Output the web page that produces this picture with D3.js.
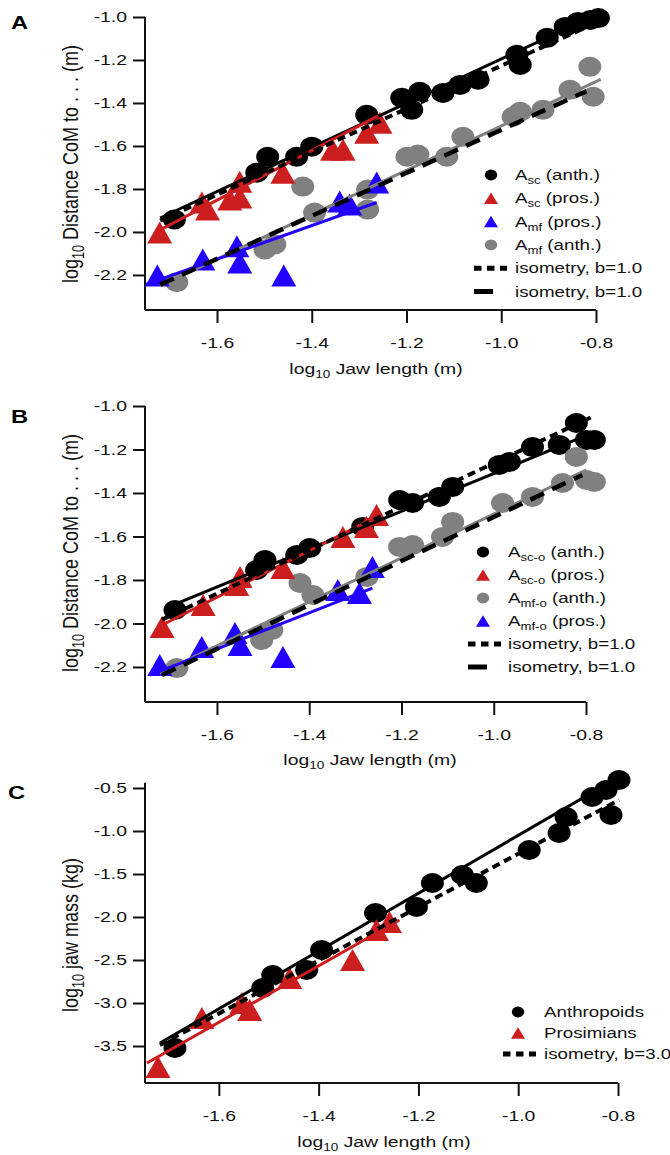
<!DOCTYPE html>
<html><head><meta charset="utf-8">
<script src="https://cdn.jsdelivr.net/npm/d3@7"></script>
<style>body{margin:0;background:#fff}</style>
</head><body><svg id="c" width="670" height="1155"></svg>
<script>
// ---------- DATA ----------
const xTicks = [-1.6, -1.4, -1.2, -1.0, -0.8];
const yTicksAB = [-1.0, -1.2, -1.4, -1.6, -1.8, -2.0, -2.2];
const yTicksC = [-0.5, -1.0, -1.5, -2.0, -2.5, -3.0, -3.5];

// Panel A
const A_sc_anth = [[-1.690,-1.942],[-1.516,-1.724],[-1.493,-1.650],[-1.432,-1.650],[-1.400,-1.603],[-1.284,-1.455],[-1.210,-1.376],[-1.189,-1.432],[-1.172,-1.348],[-1.123,-1.353],[-1.087,-1.316],[-1.049,-1.292],[-0.967,-1.176],[-0.960,-1.223],[-0.903,-1.097],[-0.865,-1.046],[-0.838,-1.023],[-0.812,-1.014],[-0.795,-1.005]];
const A_sc_pros = [[-1.721,-2.002],[-1.632,-1.863],[-1.620,-1.896],[-1.573,-1.849],[-1.552,-1.840],[-1.552,-1.766],[-1.461,-1.724],[-1.356,-1.617],[-1.334,-1.617],[-1.284,-1.538],[-1.256,-1.492]];
const A_mf_pros = [[-1.726,-2.202],[-1.630,-2.128],[-1.558,-2.067],[-1.552,-2.142],[-1.459,-2.202],[-1.341,-1.858],[-1.320,-1.872],[-1.263,-1.770]];
const A_mf_anth = [[-1.685,-2.234],[-1.499,-2.081],[-1.478,-2.058],[-1.419,-1.789],[-1.394,-1.910],[-1.282,-1.803],[-1.282,-1.896],[-1.199,-1.650],[-1.176,-1.640],[-1.115,-1.650],[-1.081,-1.557],[-0.975,-1.464],[-0.960,-1.441],[-0.912,-1.432],[-0.855,-1.339],[-0.813,-1.232],[-0.806,-1.371]];
const A_fit_sc_anth = [[-1.72,-1.935],[-0.80,-0.99]];
const A_fit_sc_pros = [[-1.72,-1.99],[-1.26,-1.46]];
const A_fit_mf_anth = [[-1.72,-2.25],[-0.79,-1.29]];
const A_fit_mf_pros = [[-1.75,-2.244],[-1.263,-1.863]];
const A_iso_sc = [[-1.72,-1.947],[-0.80,-1.027]];
const A_iso_mf = [[-1.72,-2.245],[-0.82,-1.345]];

// Panel B
const B_sc_anth = [[-1.691,-1.938],[-1.514,-1.754],[-1.496,-1.708],[-1.427,-1.685],[-1.399,-1.653],[-1.284,-1.556],[-1.204,-1.432],[-1.176,-1.446],[-1.118,-1.418],[-1.089,-1.372],[-0.988,-1.271],[-0.966,-1.257],[-0.916,-1.189],[-0.858,-1.179],[-0.821,-1.078],[-0.799,-1.156],[-0.782,-1.156]];
const B_sc_pros = [[-1.719,-2.016],[-1.630,-1.915],[-1.557,-1.823],[-1.550,-1.786],[-1.457,-1.745],[-1.327,-1.602],[-1.276,-1.556],[-1.254,-1.501]];
const B_mf_anth = [[-1.687,-2.205],[-1.503,-2.076],[-1.481,-2.030],[-1.420,-1.814],[-1.392,-1.869],[-1.275,-1.786],[-1.204,-1.648],[-1.176,-1.639],[-1.111,-1.602],[-1.089,-1.533],[-0.981,-1.446],[-0.916,-1.418],[-0.851,-1.354],[-0.821,-1.234],[-0.799,-1.340],[-0.782,-1.349]];
const B_mf_pros = [[-1.724,-2.191],[-1.633,-2.108],[-1.561,-2.044],[-1.550,-2.099],[-1.457,-2.154],[-1.338,-1.846],[-1.291,-1.860],[-1.263,-1.740]];
const B_fit_sc_anth = [[-1.685,-1.906],[-0.786,-1.124]];
const B_fit_sc_pros = [[-1.719,-2.007],[-1.254,-1.510]];
const B_fit_mf_anth = [[-1.724,-2.228],[-0.799,-1.294]];
const B_fit_mf_pros = [[-1.745,-2.237],[-1.263,-1.837]];
const B_iso_sc = [[-1.719,-1.982],[-0.79,-1.053]];
const B_iso_mf = [[-1.719,-2.237],[-0.808,-1.317]];

// Panel C
const C_anth = [[-1.688,-3.523],[-1.512,-2.826],[-1.492,-2.674],[-1.424,-2.616],[-1.394,-2.384],[-1.286,-1.953],[-1.204,-1.884],[-1.172,-1.605],[-1.112,-1.512],[-1.084,-1.605],[-0.978,-1.221],[-0.918,-1.023],[-0.904,-0.837],[-0.852,-0.605],[-0.824,-0.523],[-0.798,-0.407],[-0.814,-0.814]];
const C_pros = [[-1.722,-3.744],[-1.634,-3.174],[-1.554,-3.0],[-1.538,-3.081],[-1.458,-2.709],[-1.332,-2.5],[-1.284,-2.151],[-1.258,-2.058]];
const C_fit_anth = [[-1.718,-3.465],[-0.798,-0.372]];
const C_fit_pros = [[-1.744,-3.698],[-1.238,-2.035]];
const C_iso = [[-1.718,-3.488],[-0.798,-0.64]];

// ---------- STYLE ----------
const FONT = "'Liberation Sans', Arial, sans-serif";
const SX = 1.25;           // horizontal stretch of the original figure
const COL = {black:'#000', red:'#cc1e1e', blue:'#2200ff', gray:'#808080'};
const svg = d3.select('#c');

function stext(parent, x, y, parts, o = {}) {
  const size = o.size || 15;
  const t = parent.append('text')
    .attr('transform', `translate(${x},${y}) scale(${SX},1)` + (o.rotate ? ' rotate(-90)' : ''))
    .attr('font-family', FONT).attr('font-size', size)
    .attr('font-weight', o.weight || 'normal')
    .attr('text-anchor', o.anchor || 'start').attr('fill', o.fill || '#111');
  let shifted = 0;
  const sh = o.subShift || 4;
  parts.forEach(([s, sub]) => {
    const ts = t.append('tspan').text(s);
    if (sub) { ts.attr('font-size', size * 0.7).attr('dy', sh - shifted); shifted = sh; }
    else if (shifted) { ts.attr('dy', -shifted); shifted = 0; }
  });
  return t;
}

function circlePath(rx, ry) {
  return `M${-rx},0A${rx},${ry} 0 1,0 ${rx},0A${rx},${ry} 0 1,0 ${-rx},0Z`;
}
function triPath(w, h) {
  return `M0,${-h/2}L${w/2},${h/2}L${-w/2},${h/2}Z`;
}
const MARK = {
  circle: circlePath(11.5, 10), tri: triPath(25, 22),
  lcircle: circlePath(6.2, 5.4), ltri: triPath(14, 11.5)
};
const DASH = {dot: '8,5', dash: '15,9'};

function panel(cfg) {
  const g = svg.append('g');
  const x = d3.scaleLinear().domain(cfg.xDom).range(cfg.xRange);
  const y = d3.scaleLinear().domain(cfg.yDom).range(cfg.yRange);
  const yBot = y(cfg.yMin), yTop = y(cfg.yMax);

  // axes
  const ax = g.append('g').attr('transform', `translate(0,${yBot})`)
    .call(d3.axisBottom(x).tickValues(xTicks).tickSize(13).tickPadding(14).tickFormat(d3.format('.1f')));
  const ay = g.append('g').attr('transform', `translate(${cfg.xRange[0]},0)`)
    .call(d3.axisLeft(y).tickValues(cfg.yTicks).tickSize(12).tickPadding(6).tickFormat(d3.format('.1f')));
  [ax, ay].forEach(a => {
    a.select('.domain').remove();
    a.selectAll('line').attr('stroke', '#111').attr('stroke-width', 2);
    a.selectAll('text').attr('font-family', FONT).attr('font-size', 15.5).attr('fill', '#111')
      .each(function () {
        const t = d3.select(this);
        const tx = +t.attr('x') || 0;
        t.attr('x', 0).attr('transform', `translate(${tx},0) scale(${SX},1)`);
      });
    a.selectAll('text').text(function () { return d3.select(this).text().replace('−', '-'); });
  });
  g.append('line').attr('x1', cfg.xRange[0]).attr('x2', cfg.xRange[1])
    .attr('y1', yBot).attr('y2', yBot).attr('stroke', '#111').attr('stroke-width', 2);
  g.append('line').attr('x1', cfg.xRange[0]).attr('x2', cfg.xRange[0])
    .attr('y1', yBot).attr('y2', yTop).attr('stroke', '#111').attr('stroke-width', 2);

  // markers
  cfg.series.forEach(s => {
    g.append('g').selectAll('path').data(s.data).join('path')
      .attr('d', MARK[s.shape]).attr('fill', s.color)
      .attr('transform', d => `translate(${x(d[0])},${y(d[1])})`);
  });
  // lines
  const line = d3.line().x(d => x(d[0])).y(d => y(d[1]));
  cfg.lines.forEach(l => {
    g.append('path').attr('d', line(l.data)).attr('fill', 'none')
      .attr('stroke', l.color).attr('stroke-width', l.width)
      .attr('stroke-dasharray', l.dash ? DASH[l.dash] : null);
  });

  // labels
  stext(g, cfg.letter[1], cfg.letter[2], [[cfg.letter[0], false]], {size: 19, weight: 'bold', fill: '#000'});
  stext(g, cfg.ylab.x, cfg.ylab.y, cfg.ylab.parts, {size: 18, anchor: 'middle', rotate: true, subShift: 5});
  stext(g, cfg.xlab.x, cfg.xlab.y, [['log', false], ['10', true], [' Jaw length (m)', false]], {size: 15.5, anchor: 'middle'});

  // legend
  const L = cfg.legend;
  L.items.forEach((it, i) => {
    const yy = L.y0 + i * L.dy;
    if (it.shape) {
      g.append('path').attr('d', MARK['l' + it.shape]).attr('fill', it.color)
        .attr('transform', `translate(${L.sx},${yy})`);
    } else {
      g.append('line').attr('x1', L.lx).attr('x2', L.lx + (it.dash === 'dot' ? 33 : 19))
        .attr('y1', yy).attr('y2', yy).attr('stroke', '#000').attr('stroke-width', 5)
        .attr('stroke-dasharray', it.dash === 'dot' ? '7.5,5.5' : null);
    }
    stext(g, L.tx, yy + 5, it.label, {size: 15});
  });
}

const ylabDist = [['log', false], ['10', true], [' Distance CoM to . . . (m)', false]];
const iso1 = [['isometry, b=1.0', false]];

panel({
  xDom: [-1.752, -0.8], xRange: [145, 596],
  yDom: [-1.0, -2.363], yRange: [17, 310], yMax: -1.0, yMin: -2.363, yTicks: yTicksAB,
  letter: ['A', 11, 29],
  ylab: {x: 78, y: 164, parts: ylabDist},
  xlab: {x: 376, y: 374},
  series: [
    {data: A_sc_anth, shape: 'circle', color: COL.black},
    {data: A_mf_anth, shape: 'circle', color: COL.gray},
    {data: A_sc_pros, shape: 'tri', color: COL.red},
    {data: A_mf_pros, shape: 'tri', color: COL.blue}
  ],
  lines: [
    {data: A_fit_sc_anth, color: COL.black, width: 3},
    {data: A_fit_sc_pros, color: COL.red, width: 3},
    {data: A_fit_mf_anth, color: COL.gray, width: 3},
    {data: A_fit_mf_pros, color: COL.blue, width: 3},
    {data: A_iso_sc, color: COL.black, width: 4, dash: 'dot'},
    {data: A_iso_mf, color: COL.black, width: 4.5, dash: 'dash'}
  ],
  legend: {sx: 491, lx: 474, tx: 515, y0: 175, dy: 23.3, items: [
    {shape: 'circle', color: COL.black, label: [['A', false], ['sc', true], [' (anth.)', false]]},
    {shape: 'tri', color: COL.red, label: [['A', false], ['sc', true], [' (pros.)', false]]},
    {shape: 'tri', color: COL.blue, label: [['A', false], ['mf', true], [' (pros.)', false]]},
    {shape: 'circle', color: COL.gray, label: [['A', false], ['mf', true], [' (anth.)', false]]},
    {dash: 'dot', label: iso1},
    {dash: 'dash', label: iso1}
  ]}
});

panel({
  xDom: [-1.756, -0.8], xRange: [145, 586],
  yDom: [-1.0, -2.361], yRange: [406, 702], yMax: -1.0, yMin: -2.361, yTicks: yTicksAB,
  letter: ['B', 11, 423],
  ylab: {x: 78, y: 553, parts: ylabDist},
  xlab: {x: 370, y: 765},
  series: [
    {data: B_sc_anth, shape: 'circle', color: COL.black},
    {data: B_mf_anth, shape: 'circle', color: COL.gray},
    {data: B_sc_pros, shape: 'tri', color: COL.red},
    {data: B_mf_pros, shape: 'tri', color: COL.blue}
  ],
  lines: [
    {data: B_fit_sc_anth, color: COL.black, width: 3},
    {data: B_fit_sc_pros, color: COL.red, width: 3},
    {data: B_fit_mf_anth, color: COL.gray, width: 3},
    {data: B_fit_mf_pros, color: COL.blue, width: 3},
    {data: B_iso_sc, color: COL.black, width: 4, dash: 'dot'},
    {data: B_iso_mf, color: COL.black, width: 4.5, dash: 'dash'}
  ],
  legend: {sx: 483, lx: 468, tx: 508, y0: 552, dy: 23, items: [
    {shape: 'circle', color: COL.black, label: [['A', false], ['sc-o', true], [' (anth.)', false]]},
    {shape: 'tri', color: COL.red, label: [['A', false], ['sc-o', true], [' (pros.)', false]]},
    {shape: 'circle', color: COL.gray, label: [['A', false], ['mf-o', true], [' (anth.)', false]]},
    {shape: 'tri', color: COL.blue, label: [['A', false], ['mf-o', true], [' (pros.)', false]]},
    {dash: 'dot', label: iso1},
    {dash: 'dash', label: iso1}
  ]}
});

panel({
  xDom: [-1.748, -0.8], xRange: [145, 618],
  yDom: [-0.5, -3.5], yRange: [788, 1046], yMax: -0.44, yMin: -3.93, yTicks: yTicksC,
  letter: ['C', 8, 799],
  ylab: {x: 78, y: 935, parts: [['log', false], ['10', true], [' jaw mass (kg)', false]]},
  xlab: {x: 384, y: 1147},
  series: [
    {data: C_anth, shape: 'circle', color: COL.black},
    {data: C_pros, shape: 'tri', color: COL.red}
  ],
  lines: [
    {data: C_fit_anth, color: COL.black, width: 3},
    {data: C_fit_pros, color: COL.red, width: 3},
    {data: C_iso, color: COL.black, width: 4, dash: 'dot'}
  ],
  legend: {sx: 518, lx: 503, tx: 544, y0: 1012, dy: 21, items: [
    {shape: 'circle', color: COL.black, label: [['Anthropoids', false]]},
    {shape: 'tri', color: COL.red, label: [['Prosimians', false]]},
    {dash: 'dot', label: [['isometry, b=3.0', false]]}
  ]}
});
</script></body></html>
